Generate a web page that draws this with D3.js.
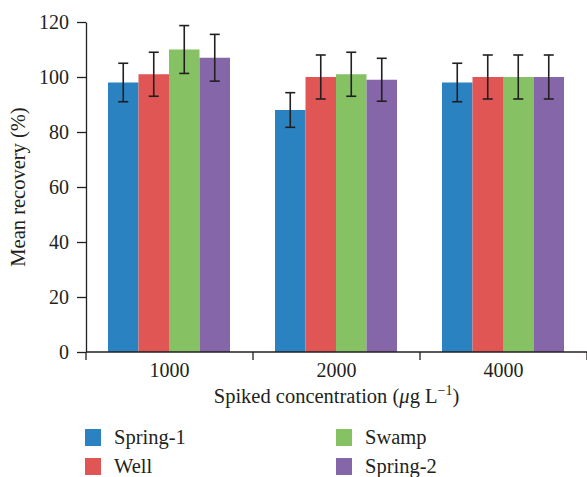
<!DOCTYPE html>
<html>
<head>
<meta charset="utf-8">
<script src="https://cdn.jsdelivr.net/npm/d3@7"></script>
<style>
  body { margin: 0; background: #fff; }
  text { font-family: "Liberation Serif", "DejaVu Serif", serif; fill: #231f20; }
</style>
</head>
<body>
<script>
const categories = ['1000', '2000', '4000'];
const series = ['Spring-1', 'Well', 'Swamp', 'Spring-2'];
const colors = ['#2b82c0', '#df5655', '#86c163', '#8466a9'];
// mean recovery per series, one value per category
const means = [
  [98, 88, 98],
  [101, 100, 100],
  [110, 101, 100],
  [107, 99, 100]
];
const errors = [
  [7, 6.3, 7],
  [8, 8, 8],
  [8.7, 8, 8],
  [8.5, 7.8, 8]
];
const yTicks = [0, 20, 40, 60, 80, 100, 120];

const width = 587, height = 477;
const ink = '#231f20';

const svg = d3.select(document.body).append('svg')
  .attr('width', width)
  .attr('height', height);

const x0 = d3.scaleBand().domain(categories).range([86, 587]);
const x1 = d3.scaleBand().domain(series).range([22, x0.bandwidth() - 23]);
const y = d3.scaleLinear().domain([0, 120]).range([352, 22]);

// bars
const groups = svg.selectAll('.group')
  .data(categories)
  .enter().append('g')
  .attr('class', 'group')
  .attr('transform', d => `translate(${x0(d)},0)`);

const bars = groups.selectAll('.bar')
  .data((c, ci) => series.map((s, si) => ({ s, si, v: means[si][ci], e: errors[si][ci] })))
  .enter();

bars.append('rect')
  .attr('x', d => x1(d.s))
  .attr('y', d => y(d.v))
  .attr('width', x1.bandwidth())
  .attr('height', d => y(0) - y(d.v))
  .attr('fill', d => colors[d.si]);

// error bars
const err = bars.append('g').attr('stroke', ink).attr('stroke-width', 1.6);
err.append('line')
  .attr('x1', d => x1(d.s) + x1.bandwidth() / 2)
  .attr('x2', d => x1(d.s) + x1.bandwidth() / 2)
  .attr('y1', d => y(d.v + d.e))
  .attr('y2', d => y(d.v - d.e));
err.append('line')
  .attr('x1', d => x1(d.s) + x1.bandwidth() / 2 - 5)
  .attr('x2', d => x1(d.s) + x1.bandwidth() / 2 + 5)
  .attr('y1', d => y(d.v + d.e))
  .attr('y2', d => y(d.v + d.e));
err.append('line')
  .attr('x1', d => x1(d.s) + x1.bandwidth() / 2 - 5)
  .attr('x2', d => x1(d.s) + x1.bandwidth() / 2 + 5)
  .attr('y1', d => y(d.v - d.e))
  .attr('y2', d => y(d.v - d.e));

// y axis
const yAxis = svg.append('g')
  .attr('transform', 'translate(86,0)')
  .call(d3.axisLeft(y).tickValues(yTicks).tickSize(9).tickSizeOuter(0).tickPadding(8));

// x axis: ticks at band boundaries
const xAxis = svg.append('g').attr('transform', 'translate(0,352)');
xAxis.append('line').attr('x1', 86).attr('x2', 587).attr('stroke', ink);
xAxis.selectAll('.tk')
  .data(categories.concat(['end']))
  .enter().append('line')
  .attr('x1', (d, i) => i < categories.length ? x0(d) : x0.range()[1])
  .attr('x2', (d, i) => i < categories.length ? x0(d) : x0.range()[1])
  .attr('y1', 0).attr('y2', 8)
  .attr('stroke', ink);
xAxis.selectAll('.lbl')
  .data(categories)
  .enter().append('text')
  .attr('x', d => x0(d) + x0.bandwidth() / 2)
  .attr('y', 25)
  .attr('text-anchor', 'middle')
  .style('font-size', '20px')
  .text(d => d);

yAxis.selectAll('path, line').attr('stroke', ink).attr('stroke-width', 1.3);
xAxis.selectAll('line').attr('stroke-width', 1.3);
yAxis.selectAll('text')
  .style('font-family', '"Liberation Serif", serif')
  .style('font-size', '20px')
  .attr('fill', ink);

// axis titles
const xTitle = svg.append('text')
  .attr('x', 336.5)
  .attr('y', 403)
  .attr('text-anchor', 'middle')
  .style('font-size', '20.5px');
xTitle.append('tspan').text('Spiked concentration (');
xTitle.append('tspan').style('font-style', 'italic').text('μ');
xTitle.append('tspan').text('g L');
xTitle.append('tspan').attr('dy', -8).style('font-size', '14px').text('−1');
xTitle.append('tspan').attr('dy', 8).text(')');

svg.append('text')
  .attr('transform', 'translate(25,187) rotate(-90)')
  .attr('text-anchor', 'middle')
  .style('font-size', '20.5px')
  .text('Mean recovery (%)');

// legend
const legendPos = [[85, 429], [85, 458], [336, 429], [336, 458]];
const legend = svg.selectAll('.legend')
  .data(series)
  .enter().append('g')
  .attr('transform', (d, i) => `translate(${legendPos[i][0]},${legendPos[i][1]})`);
legend.append('rect')
  .attr('width', 16).attr('height', 17)
  .attr('fill', (d, i) => colors[i]);
legend.append('text')
  .attr('x', 29).attr('y', 15)
  .style('font-size', '20.5px')
  .text(d => d);
</script>
</body>
</html>
